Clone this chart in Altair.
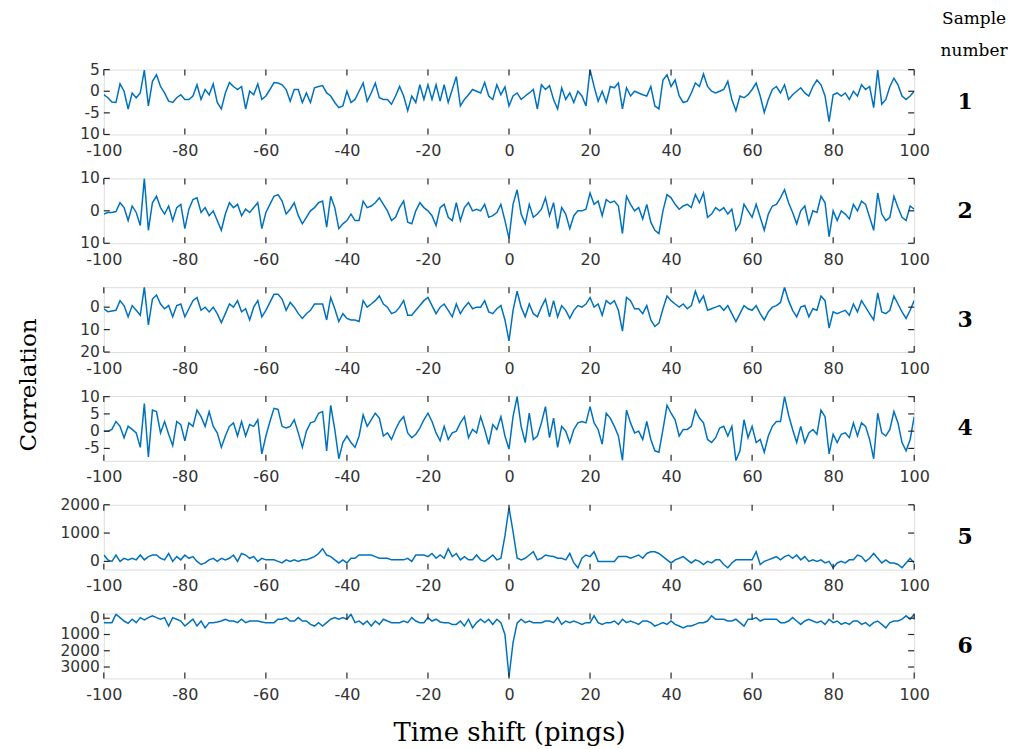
import altair as alt
import pandas as pd

shifts = list(range(-100, 101))
x_ticks = [-100, -80, -60, -40, -20, 0, 20, 40, 60, 80, 100]

s1 = [-0.8, -1.5, -2.5, -2.6, 1.7, 0, -4.1, -0.4, -1.5, -0.4, 4.9, -3.4, 2.3, 3.8, 1.1, -0.4, -2.3, -2.6, -1.5, -0.8,
      -1.9, -1.9, -1.1, 1.5, -1.9, 0.4, -0.8, 1.7, -2.6, -4.1, -0.4, 2.0, 1.1, 0.4, 1.1, -4.1, 0, -0.8, 1.7, -1.9,
      -1.1, 0.4, 2.0, 1.9, 1.5, 0.4, -2.3, 0.4, 0.4, -2.6, -0.4, -2.6, 0.8, 1.1, 1.3, -0.4, -1.1, -2.6, -3.8, -3.4,
      0, -2.6, -1.9, 0, 1.9, -2.3, -0.4, 1.9, -1.5, -1.9, -1.9, -3.0, -1.1, 1.1, -1.1, -4.5, -1.1, -2.6, 1.5, -1.9,
      1.5, -1.9, 1.5, -2.3, 1.5, -2.6, 0.4, 3.4, -3.4, -1.9, -0.8, 0.4, 0, -0.4, 2.0, -1.1, -1.9, 1.5, -0.8, 1.0,
      -3.4, -1.1, -0.4, -1.9, -1.1, -0.4, 0.4, -4.1, 1.5, 0.4, 1.3, -1.9, -4.1, 0.8, -1.9, -0.4, -2.6, 0, -1.1, -3.4,
      5.0, 1.1, -2.3, 0, -2.6, 1.1, 0.8, 1.9, -4.1, 0.8, -1.1, 0, -0.4, -0.8, -1.1, 1.1, -3.4, -4.1, 2.6, 3.8,
      1.1, 2.6, -1.1, -2.6, -2.3, -0.4, 1.9, 1.1, 4.0, 1.1, 0, -0.4, 0, 0.4, 2.3, -1.9, -4.5, -1.1, -1.5, -0.8,
      0.4, 1.9, -1.1, -4.9, -1.9, 0.4, 1.1, -0.4, 1.5, -1.9, -0.8, 0, 0.8, -0.4, -1.1, 1.1, 2.6, 1.5, -1.1, -7.0,
      -0.8, -0.4, -1.1, -0.4, -1.9, 0, -1.1, 1.5, 0.4, 1.1, -3.8, 4.9, -3.0, -1.9, 1.1, 3.0, 1.5, -1.1, -1.9, -1.1,
      0]

s2 = [-1, -0.5, -0.5, -0.2, 2.5, 1, -3, 1.5, -0.5, -4.5, 10, -6, 2.5, 4.5, 1, -1, 1.5, -3, 1, 2,
      -5.5, 0.5, 3.5, 4, -0.5, 1, -1.5, 0, -3, -6, -1, 2.5, 1, 2, -1.5, 0.5, -0.5, 1, 2.5, -5.5,
      -0.5, 2, 4.5, 5, 3, -1, 0.5, 2.5, -1.5, -4, -2, 0, 1, 2.5, 3, -5, 4.5, 1, -5.5, -4,
      -3, -1, -3, -3, 3, 1, 1.5, 2.5, 4, 2, 0, -3, -2, 1, 3, -3.5, -4, 0, 2.5, 1,
      0, -1.5, -4.5, 1, 2, -2, -3, 2.5, -3, 1, 2.5, 0, 0.5, 0, 2, -2, -1.5, -0.5, 2, -3,
      -8.5, 2, 6.5, -1, -4, 2, -2, -1, 0.5, 4, -1.5, 2.5, -5.5, 1, -1, -5.5, -1.5, 0, 0, 0.5,
      5.5, 2, 3, -1.5, 3.5, 2.5, 3, 1.5, -7, 4.5, 2, 0, 1, -2.5, 2, -3.5, -6, -7, 0, 5,
      4, 2, 0.5, 1.5, 2, 1, 5, 2.5, 5.5, -2, -1, 1, 0, 1, -1, 0.5, -6, -4, 2, 0,
      -2, 2, -2, -6, -1, 1.5, 2, 4, 6.5, 2.5, -0.5, -4, 0, 1.5, -4, 0, -0.5, 4.5, 2.5, -8,
      0, -3, 0, -1, -2.5, 2, 0, 3, 2, -2, -6, 5.5, -1, -3, -2, 4.5, 1, -2, -3, 1.5,
      0.5]

s3 = [-0.7, -2, -1.7, -1.4, 2.9, 0.7, -4.3, 0.7, -1.4, -3.6, 8.9, -7.9, 3.6, 5.4, 1.4, -0.7, 0.7, -4.3, 0.7, 1.4,
      -4.3, -0.7, 2.9, 4.3, -1.4, 0, -2.1, 0, -2.9, -6.9, -2.9, 1.4, 0, 2.9, -2.1, -0.7, -5.7, 0, 2.9, -4.3,
      -1.4, 2.1, 5.7, 5.7, 3.6, -1.4, 2.1, 0, -2.9, -5, -2.9, -1.4, 1.4, 1.4, 1.4, -5.7, 4.3, -0.7, -6.4, -2.9,
      -5, -5.7, -5.7, -6.4, 2.9, 0, 1.4, 2.9, 5, 1.4, 0, -2.9, -2.1, 0, 2.9, -3.6, -3.6, -1.4, 0.7, 2.9,
      4.3, 0.7, -2.9, 0, 1.4, -1.4, -4.3, 1.4, -2.9, 0, 2.1, -0.7, 0, 0, 2.9, -2.1, -2.9, -0.7, 0.7, -5.7,
      -15, -1.4, 7.1, 0, -4.3, 1.4, -2.9, -4.3, 0, 3.6, -4.3, 2.9, -4.3, 0.7, -1.4, -5, -1.4, 0.7, 0, 1.4,
      4.3, 0, 1.4, -3.6, 2.9, 1.4, 2.9, -1.4, -10.7, 4.3, 2.9, -0.7, -0.7, -2.9, 0.7, -5.7, -8.6, -7.1, -0.7, 5,
      2.9, 1.4, 0, 1.4, -0.7, 0.7, 7.1, 2.1, 5, -1.4, -0.7, 0, 0.7, -1.4, 0.7, -2.9, -6.4, -2.9, 0.7, -0.7,
      -1.4, 0.7, -2.9, -5.7, -2.1, 0, 0.7, 2.1, 8.9, 2.9, -1.4, -4.3, 0, 0.7, -4.3, -0.7, -1.4, 5, 2.9, -9.3,
      -2.1, -2.9, -2.1, -1.4, -3.6, 1.4, -2.1, 2.9, 0, -2.9, -5.7, 6.4, -2.1, -2.9, -1.4, 5, 1.4, -2.1, -5, -1.4,
      2.9]

s4 = [0, 0, 0.5, 2.8, 1.4, -1.9, 1.4, 0.5, -0.5, -4.7, 8, -7.5, 6.1, 5.7, -0.5, 2.8, -0.9, -4.2, 2.8, 1.9,
      -2.8, 2.4, 1.4, 6.1, 4.2, 1.4, 5.7, 1.4, -0.5, -4.7, -1.4, 1.4, 2.4, -1.4, 2.8, -1.4, 1.9, 1.4, 3.3, -6.6,
      -1.4, 2.8, 6.6, 6.3, 1.4, 0.9, 1.4, 3.3, -0.5, -4.7, 0, 2.4, 2.8, 5.2, 5.7, -5.7, 7.5, 0.5, -8, -3.3,
      -1.4, -3.3, -4.7, -1.4, 4.7, 1.4, 3.3, 5.2, 3.8, -1.4, -0.5, -2.4, 0.5, 2.8, 4.2, -0.5, -1.9, -0.9, 0.9, 3.3,
      5.2, 2.8, -0.5, -2.8, 1.4, -2.4, -0.5, 0, 2.4, 4.2, -1.9, 0.5, -0.5, 4.2, 0.5, -3.8, 1.9, 0.5, 4.2, -1.4,
      -5.2, 4.2, 10, 1.4, -3.3, 5.2, -2.4, -1.4, 2.4, 7.1, -1.9, 3.8, -4.7, 1.4, 0, -3.3, 0.5, 2.4, 2.8, 2.4,
      7.1, 2.4, 0.5, -3.8, 5.2, 3.8, 1.4, -1.4, -8.5, 6.1, 2.4, -0.5, 0, -2.4, 2.8, -2.4, -5.7, -6.1, 0.5, 7.5,
      5.2, 3.3, -1.4, 0.5, 0.5, 1.4, 6.1, 3.8, 2.4, -2.4, -3.3, -1.9, 0.9, 1.4, -1.4, 1.4, -8.5, -5.7, 3.3, -1.9,
      1.4, -3.3, -2.4, -6.1, -1.4, 1.4, 2.8, 2.8, 10, 4.7, 0.5, -3.3, 1.4, -3.3, -0.5, 0.5, -0.9, 6.1, 4.2, -6.6,
      -0.9, -3.3, -0.9, -0.5, -1.9, 2.4, -1.4, 2.4, 1.4, -2.4, -8, 5.2, -0.5, -1.4, 0.5, 5.7, 2.4, -3.3, -5.7, -2.4,
      4.2]

s5 = [225, 55, 0, 225, 0, 110, 55, 110, 55, 225, 55, 170, 225, 225, 110, 55, 280, 0, 170, 55,
      225, 110, 170, 0, -110, -55, 55, 110, 0, 110, 55, 110, 225, 0, 280, 225, 110, 170, 0, 110,
      55, 55, 55, 0, -55, 55, 0, 55, 0, 55, 55, 110, 170, 280, 450, 225, 170, 55, -55, 55,
      -55, 110, 110, 225, 225, 225, 225, 170, 110, 110, 110, 55, 55, 55, 55, 110, 0, 225, 225, 225,
      170, 280, 110, 225, 110, 450, 170, 280, 55, 170, 55, 55, 225, 55, 0, 110, 225, 55, 110, 900,
      1900, 1050, 120, 55, 110, 225, 340, 55, 110, 225, 190, 170, 110, 110, 55, 280, -55, -225, 110, 225,
      170, 340, 0, 0, 0, 0, 0, 170, 170, 170, 110, 170, 225, 110, 280, 340, 340, 280, 170, 55,
      -55, 55, 110, 170, 55, -55, 55, 0, -110, 0, -55, 55, 55, -110, -225, -55, 55, 55, 55, 55,
      55, 340, -110, 0, 55, 110, 170, 55, 170, 225, 110, 225, 55, 170, 0, 55, 0, 55, -55, 0,
      -225, -55, 0, -55, 55, 55, 225, 170, 0, 110, 280, 110, -55, 55, -55, -55, -110, -225, -55, 110,
      -55]

s6 = [-270, -270, -270, 250, 40, -170, -310, -60, -270, 40, -100, 40, 150, 40, -60, 40, -480, 40, -60, -170,
      -480, -270, -60, -480, -170, -590, -270, -270, -230, -170, -60, -170, -170, -270, -60, -270, -170, -170, -170, -230,
      -270, -270, -270, -60, -60, 40, -170, -170, 40, -170, -170, -380, -480, -270, -480, -270, -60, 40, -60, 40,
      -60, 250, -270, -170, -380, -170, -480, -170, -380, -60, -170, -270, -270, -270, -170, -270, 40, -170, -270, -270,
      40, -170, -60, -230, -270, -270, -380, -380, -170, -480, -60, -590, -270, -60, -270, -60, -380, -60, -270, -1000,
      -3600, -1500, -300, -60, -270, -170, -270, -270, -270, -170, -170, -270, 40, -380, -170, -270, -170, -270, -380, -270,
      -270, 150, -270, -380, -270, -270, -170, -380, -60, -270, -170, -270, -380, -170, -170, -270, -480, -380, -270, -380,
      -170, -380, -480, -590, -480, -480, -380, -270, -270, -170, 150, -60, -60, -60, -170, -170, -60, -270, -480, -60,
      -60, 40, -170, -60, -60, -60, -60, -270, -270, -170, 40, -170, -380, -170, -60, -170, -270, -170, -380, -60,
      -270, -170, -380, -270, -380, -170, -170, -380, -270, -480, -270, -170, -380, -590, -270, -170, -170, -60, 150, -60,
      250]

series = [s1, s2, s3, s4, s5, s6]
y_domains = [[-10, 5], [-10, 10], [-20, 8.9], [-8.6, 10.2], [-290, 2000], [-3700, 290]]
y_ticks = [[-10, -5, 0, 5], [-10, 0, 10], [-20, -10, 0], [-5, 0, 5, 10],
           [0, 1000, 2000], [-3000, -2000, -1000, 0]]
# tick label texts as printed in the figure (minus signs partly clipped in the original)
y_tick_labels = [["10", "-5", "0", "5"], ["10", "0", "10"], ["20", "10", "0"], ["-5", "0", "5", "10"],
                 ["0", "1000", "2000"], ["3000", "2000", "1000", "0"]]
sample_numbers = ["1", "2", "3", "4", "5", "6"]

W = 812
H = 65
LINE = "#0072BD"
AX = "#262626"
LAB = "#333333"
SANS = "DejaVu Sans"
SERIF = "DejaVu Serif"


def panel(i):
    df = pd.DataFrame({"t": shifts, "v": series[i]})
    xt = pd.DataFrame({"t": x_ticks})
    yt = pd.DataFrame({"v": y_ticks[i], "lab": y_tick_labels[i]})
    last = i == len(series) - 1
    xscale = alt.Scale(domain=[-100, 100], nice=False, zero=False)
    yscale = alt.Scale(domain=y_domains[i], nice=False, zero=False)
    xaxis_kw = dict(values=x_ticks, labelExpr="'' + datum.value", tickSize=0, domain=False,
                    grid=False, labelFont=SANS, labelFontSize=16, labelColor=LAB,
                    labelPadding=8, labelFlush=False, labelOverlap=False)
    if last:
        xaxis = alt.Axis(title="Time shift (pings)", titleFont=SERIF, titleFontSize=26,
                         titleFontWeight="normal", titleColor="black", titlePadding=17, **xaxis_kw)
    else:
        xaxis = alt.Axis(title=None, **xaxis_kw)
    line = alt.Chart(df).mark_line(color=LINE, strokeWidth=1.5, clip=True).encode(
        x=alt.X("t:Q", scale=xscale, axis=xaxis),
        y=alt.Y("v:Q", scale=yscale, axis=None),
    )
    top_ticks = alt.Chart(xt).mark_rule(color=AX, strokeWidth=1.2).encode(
        x=alt.X("t:Q"), y=alt.value(0), y2=alt.value(6))
    bot_ticks = alt.Chart(xt).mark_rule(color=AX, strokeWidth=1.2).encode(
        x=alt.X("t:Q"), y=alt.value(H - 6), y2=alt.value(H))
    left_ticks = alt.Chart(yt).mark_rule(color=AX, strokeWidth=1.2).encode(
        y=alt.Y("v:Q", axis=None), x=alt.value(0), x2=alt.value(6))
    right_ticks = alt.Chart(yt).mark_rule(color=AX, strokeWidth=1.2).encode(
        y=alt.Y("v:Q", axis=None), x=alt.value(W - 6), x2=alt.value(W))
    y_labels = alt.Chart(yt).mark_text(
        font=SANS, fontSize=15.5, color=LAB, align="right", baseline="middle"
    ).encode(y=alt.Y("v:Q", axis=None), x=alt.value(-4), text="lab:N")
    num = alt.Chart(pd.DataFrame({"n": [sample_numbers[i]]})).mark_text(
        font=SERIF, fontSize=22, fontWeight="bold", color="black", align="center", baseline="middle"
    ).encode(text="n:N", x=alt.value(W + 51), y=alt.value(H / 2))
    layers = [line, top_ticks, bot_ticks, left_ticks, right_ticks, y_labels, num]
    if i == 0:
        for txt, yy in (("Sample", -51), ("number", -19)):
            layers.append(alt.Chart(pd.DataFrame({"s": [txt]})).mark_text(
                font=SERIF, fontSize=17, color="black", align="center", baseline="middle"
            ).encode(text="s:N", x=alt.value(W + 60), y=alt.value(yy)))
    if i == 3:
        layers.append(alt.Chart(pd.DataFrame({"s": ["Correlation"]})).mark_text(
            font=SERIF, fontSize=23, color="black", align="center", baseline="middle", angle=270
        ).encode(text="s:N", x=alt.value(-75), y=alt.value(-11)))
    return alt.layer(*layers).properties(width=W, height=H)


chart = alt.vconcat(*[panel(i) for i in range(6)], spacing=44, bounds="flush").properties(
    padding={"left": 9, "top": 0, "right": 0, "bottom": 5}
).configure_view(stroke=AX, strokeWidth=1.2).configure_axis(
    labelOverlap=False
).configure(background="white")

chart.save("out.html", embed_options={"renderer": "svg", "actions": False})
